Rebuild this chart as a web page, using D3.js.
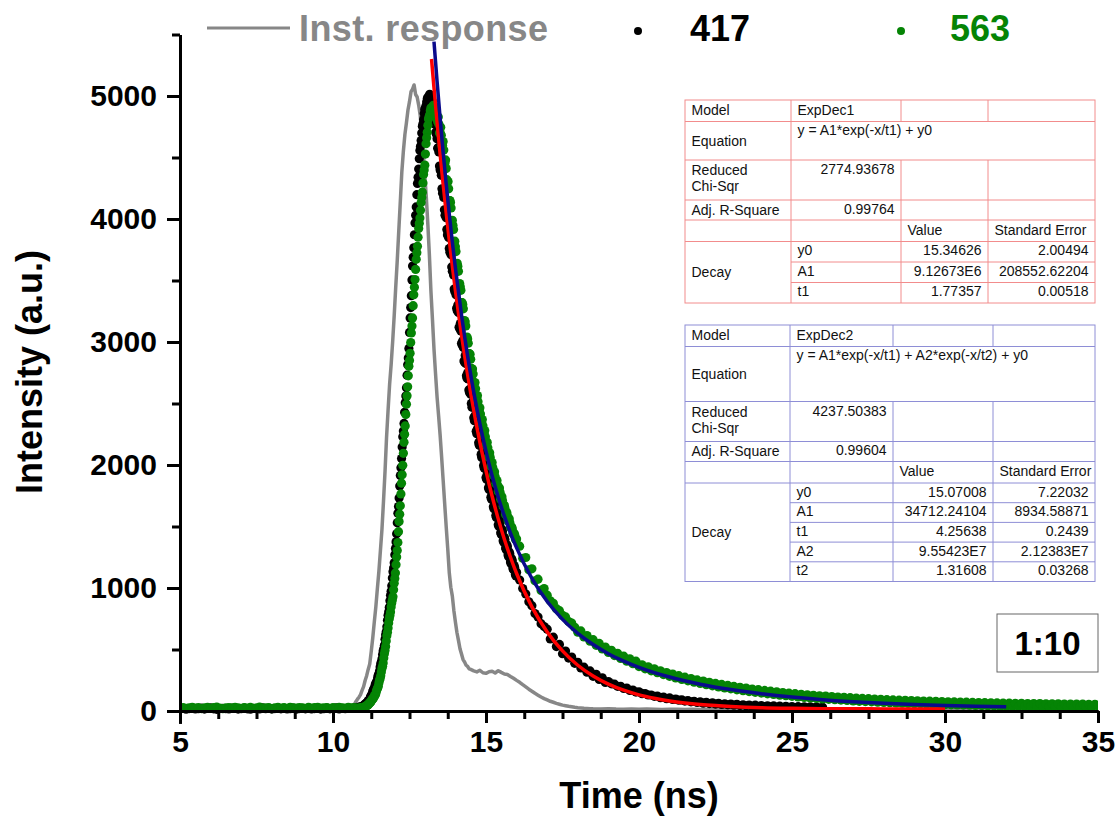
<!DOCTYPE html>
<html>
<head>
<meta charset="utf-8">
<script src="https://cdn.jsdelivr.net/npm/d3@7"></script>
<style>
body { margin: 0; background: #fff; }
svg { display: block; font-family: "Liberation Sans", Arial, Helvetica, sans-serif; }
</style>
</head>
<body>
<svg id="chart" width="1115" height="820"></svg>
<script>
"use strict";

// ---- data (time in ns, intensity in counts) ----
// 417 nm decay: base every 0.1 ns from 5, peak every 0.04 ns from 11.04 (and from 11.06), tail every 0.1 ns from 16.1
let black417Base = [18,22,15,20,24,17,19,23,16,21, 25,18,14,20,22,19,17,24,21,16,
	19,23,18,15,22,20,17,25,19,21, 16,20,24,18,22,17,19,23,15,20,
	21,18,24,17,20,22,16,19,23,18, 20,25,17,21,19,24,22,26,30,36, 44];
let black417Peak = [52,63,68,85,95,121,140,172,193,226,
	245,291,326,384,422,489,535,620,684,779,
	843,941,1018,1132,1206,1322,1441,1608,1731,1915,
	2052,2230,2338,2506,2628,2815,2948,3196,3377,3618,
	3766,3968,4098,4289,4406,4556,4638,4755,4808,4893,
	4921,4978,4982,5014,4976,4958,4878,4822,4705,4652,
	4580,4430,4390,4245,4215,4075,4060,3915,3890,3760,
	3765,3610,3590,3430,3425,3275,3300,3120,3150,2990,
	3010,2845,2890,2725,2750,2610,2615,2500,2510,2385,
	2400,2275,2295,2180,2195,2085,2100,1995,2012,1898,
	1935,1815,1848,1738,1762,1660,1684,1590,1615,1515,
	1550,1450,1478,1385,1412,1326,1352,1268,1292,1212,
	1238,1158,1182,1110,1128];
let black417PeakB = [58,62,80,88,112,128,160,178,214,232,
	272,303,358,398,460,506,584,645,738,806,
	896,974,1081,1162,1270,1375,1530,1662,1830,1978,
	2146,2276,2428,2560,2730,2870,3078,3280,3505,3690,
	3872,4030,4198,4340,4490,4592,4700,4775,4858,4902,
	4952,4990,4996,4995,4972,4915,4858,4768,4690,4575,
	4545,4400,4355,4210,4175,4030,4010,3870,3850,3730,
	3710,3575,3545,3410,3385,3255,3240,3110,3090,2975,
	2955,2835,2825,2705,2700,2590,2575,2470,2470,2360,
	2365,2255,2260,2160,2160,2060,2075,1975,1985,1885,
	1900,1800,1818,1722,1740,1645,1665,1574,1592,1502,
	1528,1435,1460,1372,1395,1312,1335,1255,1276,1198,
	1222,1148,1165,1098];
let black417Tail = [1065,995,952,888,856,792,764,710,686,
	665,586,600,524,541,466,487,430,438,388,
	396,350,356,316,326,282,298,256,270,232,
	240,221,218,201,201,183,186,167,170,154,
	156,141,142,130,130,119,122,108,114,100,
	106,94,97,88,90,81,84,75,79,69,
	75,64,71,60,67,56,63,53,59,50,
	57,47,54,44,51,42,48,39,47,37,
	44,36,42,33,41,32,39,30,38,29,
	36,28,35,27,34,26,33,25,32,24, 30];

// 563 nm decay, same sampling; tail runs to 35 ns
let green563Base = [24,28,21,26,30,23,27,20,25,29, 22,27,31,24,19,26,28,23,30,25,
	21,27,24,29,22,26,31,23,25,28, 20,26,29,24,27,22,30,25,23,28,
	26,21,29,24,27,30,23,25,28,22, 27,24,30,26,23,29,25,28,24,27, 30];
let green563Peak = [33,36,47,53,68,76,95,104,125,142,
	176,201,249,286,345,390,466,524,611,674,
	751,804,878,928,1038,1121,1252,1369,1541,1668,
	1852,1997,2184,2318,2494,2636,2802,2908,3074,3196,
	3384,3508,3672,3778,3922,4008,4134,4218,4362,4438,
	4612,4706,4812,4848,4902,4893,4925,4898,4866,4812,
	4830,4700,4745,4595,4630,4465,4480,4320,4305,4150,
	4135,3985,3950,3805,3775,3635,3615,3465,3450,3320,
	3305,3170,3165,3035,3025,2905,2900,2785,2780,2670,
	2670,2535,2565,2435,2465,2340,2370,2250,2280,2165,
	2185,2065,2100,1990,2020,1918,1946,1850,1874,1785,
	1812,1722,1742,1665,1672,1598,1614,1546,1562,1494,
	1496,1444,1446,1398,1398];
let green563PeakB = [38,44,49,62,70,88,97,116,131,162,
	186,228,264,318,364,430,492,570,640,716,
	776,845,902,985,1078,1190,1305,1458,1600,1765,
	1920,2095,2250,2410,2562,2725,2850,2995,3130,3295,
	3445,3590,3725,3852,3965,4072,4175,4292,4398,4528,
	4660,4762,4832,4880,4905,4912,4918,4885,4842,4790,
	4770,4705,4680,4600,4560,4455,4410,4300,4245,4150,
	4090,3990,3915,3820,3735,3640,3575,3475,3420,3320,
	3270,3175,3130,3040,2990,2905,2860,2780,2740,2665,
	2620,2545,2515,2440,2415,2345,2320,2255,2230,2165,
	2140,2075,2060,1998,1980,1922,1905,1850,1835,1785,
	1778,1725,1712,1662,1648,1600,1588,1545,1530,1490,
	1482,1440,1430,1392];
let green563Tail = [1340,1242,1248,1148,1156,1058,1072,980,996,
	942,896,876,832,816,778,765,727,715,680,
	641,651,602,614,567,580,534,549,504,520,
	476,493,451,469,427,446,405,425,384,405,
	361,376,343,359,327,343,311,327,296,313,
	282,300,269,287,257,275,245,264,234,253,
	224,243,214,233,205,224,196,216,188,208,
	180,200,172,193,165,186,158,179,152,173,
	146,167,140,161,134,156,129,150,124,145,
	119,141,114,136,110,132,106,128,102,124,
	98,121,95,117,92,114,89,111,86,108,
	82,105,79,102,77,100,75,97,72,95,
	69,92,67,90,65,88,63,87,62,85,
	59,83,58,81,57,80,55,79,54,77,
	51,75,50,74,49,73,48,72,47,70,
	45,69,44,68,43,67,42,66,41,65,
	40,64,39,63,38,62,37,61,37,60,
	36,60,35,59,35,58,34,58,33,57,
	33,57,32,56,32,56,31,55,31,55, 42];

// instrument response: every 0.25 ns from 5, 0.05 ns from 10.55, 0.1 ns from 14.6, 0.25 ns from 18.5
let irfBase = [10,12,9,11,13,10,12,11,9,12,10,13,11,10,12,9,11,13,10,12,11,12,15];
let irfPeak = [18,24,36,55,78,96,112,133,167,198,
	248,287,338,382,485,596,724,846,995,1136,
	1305,1476,1704,1946,2224,2446,2655,2816,3004,3215,
	3446,3664,3906,4143,4386,4552,4688,4782,4886,4954,
	5035,5056,5090,5012,4992,4926,4842,4696,4544,4356,
	4174,3955,3706,3415,3186,2944,2746,2555,2404,2246,
	2064,1876,1684,1496,1318,1124,1006,934,816,724,
	638,574,506,463,418,398,372,362,342,338];
let irfShoulder = [326,318,331,311,306,319,323,309,328,314,
	301,297,281,266,249,233,214,196,177,161,
	144,129,114,101,90,79,71,62,55,48,
	43,38,34,30,27,25,22,21,19];
let irfTail = [18,17,19,16,15,17,14,16,15,13, 15,14,12,14,13,15,12,13,14,11,
	13,12,14,12,11,13,12,10,12,13, 11,12,10,12,11,13,10,11,12,10,
	12,11,10,12,11,9,11,12,10,11, 10,12,9,11,10,11,9,10,12,10, 11,9,10,11,10,9,10];

// fitted curves
let fit1Time = [13.22,13.3,13.4,13.5,13.6,13.7,13.8,13.9,14.0,
	14.1,14.2,14.3,14.4,14.5,14.6,14.7,14.8,14.9,15.0,
	15.2,15.4,15.6,15.8,16.0,
	16.5,17.0,17.5,18.0,18.5,19.0,19.5,20.0,20.5,21.0,21.5,22.0,22.5,23.0,
	24,25,26,27,28,29,30];
let fit1Vals = [5301,5068,4791,4529,4282,4048,3827,3618,3420,
	3234,3057,2891,2733,2584,2443,2310,2184,2066,1953,
	1746,1562,1397,1250,1118,
	847,643,489,372,285,219,169,131,103,81,65,53,44,37,
	27,22,19,18,17,16,16];
let fit2Time = [13.3,13.4,13.5,13.6,13.7,13.8,13.9,14.0,
	14.2,14.4,14.6,14.8,15.0,15.2,15.4,15.6,15.8,16.0,
	16.5,17.0,17.5,18.0,18.5,19.0,19.5,20.0,
	21,22,23,24,25,26,27,28,29,30,31,32];
let fit2Vals = [5443,5122,4823,4544,4283,4040,3814,3602,
	3219,2885,2592,2336,2111,1913,1738,1584,1447,1326,
	1078,890,745,631,540,466,406,355,
	276,218,174,140,113,92,76,63,53,45,39,34];

// fit tables
let fit1Stats = ["ExpDec1", "y = A1*exp(-x/t1) + y0", "2774.93678", "0.99764"];
let fit1Names = ["y0", "A1", "t1"];
let fit1Values = ["15.34626", "9.12673E6", "1.77357"];
let fit1Errors = ["2.00494", "208552.62204", "0.00518"];
let fit2Stats = ["ExpDec2", "y = A1*exp(-x/t1) + A2*exp(-x/t2) + y0", "4237.50383", "0.99604"];
let fit2Names = ["y0", "A1", "t1", "A2", "t2"];
let fit2Values = ["15.07008", "34712.24104", "4.25638", "9.55423E7", "1.31608"];
let fit2Errors = ["7.22032", "8934.58871", "0.2439", "2.12383E7", "0.03268"];

let xTicks = [5, 10, 15, 20, 25, 30, 35];
let yTicks = [0, 1000, 2000, 3000, 4000, 5000];

function seg(start, step, vals)
{
	return vals.map(function(v, i) { return {t: start + i * step, v: v}; });
}

let black417 = seg(5, 0.1, black417Base).concat(seg(11.04, 0.04, black417Peak), seg(11.06, 0.04, black417PeakB), seg(16.1, 0.1, black417Tail));
let green563 = seg(5, 0.1, green563Base).concat(seg(11.04, 0.04, green563Peak), seg(11.06, 0.04, green563PeakB), seg(16.1, 0.1, green563Tail));
let irf = seg(5, 0.25, irfBase).concat(seg(10.55, 0.05, irfPeak), seg(14.6, 0.1, irfShoulder), seg(18.5, 0.25, irfTail));
let fit1 = fit1Time.map(function(t, i) { return {t: t, v: fit1Vals[i]}; });
let fit2 = fit2Time.map(function(t, i) { return {t: t, v: fit2Vals[i]}; });

// ---- drawing ----
let svg = d3.select("#chart");
svg.append("rect").attr("width", 1115).attr("height", 820).attr("fill", "#fff");

let x = d3.scaleLinear().domain([5, 35]).range([180, 1098]);
let y = d3.scaleLinear().domain([-100, 5500]).range([723.3, 34.5]);

svg.append("clipPath").attr("id", "plot")
	.append("rect").attr("x", 180).attr("y", 20).attr("width", 918).attr("height", 704);

let plot = svg.append("g").attr("clip-path", "url(#plot)");
let line = d3.line().x(function(d) { return x(d.t); }).y(function(d) { return y(d.v); });

plot.append("path").datum(irf)
	.attr("d", line)
	.attr("fill", "none")
	.attr("stroke", "#878787")
	.attr("stroke-width", 3.5)
	.attr("stroke-linejoin", "round");

let dotR = 4.6;
plot.append("g").selectAll("circle")
	.data(black417)
	.enter().append("circle")
	.attr("cx", function(d) { return x(d.t); })
	.attr("cy", function(d) { return y(d.v); })
	.attr("r", dotR)
	.attr("fill", "#000");

plot.append("g").selectAll("circle")
	.data(green563)
	.enter().append("circle")
	.attr("cx", function(d) { return x(d.t); })
	.attr("cy", function(d) { return y(d.v); })
	.attr("r", dotR)
	.attr("fill", "#058405");

let smooth = d3.line().curve(d3.curveMonotoneX).x(function(d) { return x(d.t); }).y(function(d) { return y(d.v); });
plot.append("path").datum(fit1)
	.attr("d", smooth).attr("fill", "none").attr("stroke", "#f00").attr("stroke-width", 3.5);
plot.append("path").datum(fit2)
	.attr("d", smooth).attr("fill", "none").attr("stroke", "#0a0a8c").attr("stroke-width", 3.5);

// axes
function styleAxis(g)
{
	g.attr("font-family", null).attr("font-size", 30).attr("font-weight", "bold");
	g.selectAll("line, path").attr("stroke", "#000").attr("stroke-width", 3);
	g.selectAll("text").attr("fill", "#000");
}

let xMinor = d3.range(5, 35.01, 1.25).filter(function(v) { return v % 5 !== 0; });
let yMinor = d3.range(500, 5600, 1000);

svg.append("g")
	.attr("transform", "translate(0," + y(0) + ")")
	.call(d3.axisBottom(x).tickValues(xMinor).tickSize(8).tickSizeOuter(0).tickFormat(""))
	.call(styleAxis);
svg.append("g")
	.attr("transform", "translate(0," + y(0) + ")")
	.call(d3.axisBottom(x).tickValues(xTicks).tickSize(12).tickSizeOuter(0).tickPadding(8).tickFormat(d3.format("d")))
	.call(styleAxis);
svg.append("g")
	.attr("transform", "translate(180,0)")
	.call(d3.axisLeft(y).tickValues(yMinor).tickSize(8).tickSizeOuter(0).tickFormat(""))
	.call(styleAxis);
svg.append("g")
	.attr("transform", "translate(180,0)")
	.call(d3.axisLeft(y).tickValues(yTicks).tickSize(13).tickSizeOuter(0).tickPadding(10).tickFormat(d3.format("d")))
	.call(styleAxis);

svg.append("text")
	.attr("x", 639).attr("y", 808)
	.attr("text-anchor", "middle")
	.attr("font-size", 36).attr("font-weight", "bold")
	.text("Time (ns)");
svg.append("text")
	.attr("transform", "translate(42,372) rotate(-90)")
	.attr("text-anchor", "middle")
	.attr("font-size", 36).attr("font-weight", "bold")
	.text("Intensity (a.u.)");

// legend
let legend = svg.append("g").attr("font-size", 36).attr("font-weight", "bold");
legend.append("line").attr("x1", 207).attr("x2", 290).attr("y1", 28).attr("y2", 28)
	.attr("stroke", "#878787").attr("stroke-width", 3);
legend.append("text").attr("x", 299).attr("y", 41).attr("fill", "#878787").attr("textLength", 249).text("Inst. response");
legend.append("circle").attr("cx", 638).attr("cy", 31).attr("r", 4).attr("fill", "#000");
legend.append("text").attr("x", 690).attr("y", 41).attr("fill", "#000").text("417");
legend.append("circle").attr("cx", 901).attr("cy", 31).attr("r", 4).attr("fill", "#058405");
legend.append("text").attr("x", 950).attr("y", 41).attr("fill", "#058405").text("563");

// fit result tables
function drawTable(lay, stats, names, values, errors)
{
	let c = lay.cols;
	let r = lay.rows;
	let end = r[5] + names.length * lay.ph;
	let g = svg.append("g").attr("font-size", 14).attr("fill", "#111");
	g.append("rect").attr("x", c[0]).attr("y", r[0]).attr("width", c[4] - c[0]).attr("height", end - r[0])
		.attr("fill", "#fff").attr("stroke", lay.color);
	let segs = [];
	for (let i = 1; i <= 5; i++) segs.push([c[0], r[i], c[4], r[i]]);
	for (let i = 1; i < names.length; i++) segs.push([c[1], r[5] + i * lay.ph, c[4], r[5] + i * lay.ph]);
	segs.push([c[1], r[0], c[1], end]);
	segs.push([c[2], r[0], c[2], r[1]], [c[2], r[2], c[2], end]);
	segs.push([c[3], r[0], c[3], r[1]], [c[3], r[2], c[3], end]);
	g.selectAll("line").data(segs).enter().append("line")
		.attr("x1", function(d) { return d[0]; }).attr("y1", function(d) { return d[1]; })
		.attr("x2", function(d) { return d[2]; }).attr("y2", function(d) { return d[3]; })
		.attr("stroke", lay.color);
	let pad = 6.5;
	function txt(tx, ty, s, anchor)
	{
		g.append("text").attr("x", tx).attr("y", ty).attr("text-anchor", anchor || "start").text(s);
	}
	txt(c[0] + pad, r[0] + 15, "Model");
	txt(c[1] + pad, r[0] + 15, stats[0]);
	txt(c[0] + pad, (r[1] + r[2]) / 2 + 5, "Equation");
	txt(c[1] + pad, r[1] + 13, stats[1]);
	txt(c[0] + pad, r[2] + 15, "Reduced");
	txt(c[0] + pad, r[2] + 31, "Chi-Sqr");
	txt(c[2] - pad, r[2] + 14, stats[2], "end");
	txt(c[0] + pad, r[3] + 14.5, "Adj. R-Square");
	txt(c[2] - pad, r[3] + 13.5, stats[3], "end");
	txt(c[2] + pad, r[4] + 14.5, "Value");
	txt(c[3] + pad, r[4] + 14.5, "Standard Error");
	txt(c[0] + pad, (r[5] + end) / 2 + 5, "Decay");
	names.forEach(function(n, i)
	{
		let ty = r[5] + i * lay.ph + 13.5;
		txt(c[1] + pad, ty, n);
		txt(c[3] - pad, ty, values[i], "end");
		txt(c[4] - pad, ty, errors[i], "end");
	});
}

drawTable({cols: [685, 791, 901, 988, 1095], rows: [100, 121.5, 160, 200, 220, 241.5], ph: 20.5, color: "#f28c8c"},
	fit1Stats, fit1Names, fit1Values, fit1Errors);
drawTable({cols: [685, 790, 893, 993, 1095], rows: [325, 346.5, 401.5, 441.5, 461.5, 483], ph: 19.7, color: "#8e8ed6"},
	fit2Stats, fit2Names, fit2Values, fit2Errors);

// ratio label
svg.append("rect").attr("x", 997).attr("y", 614).attr("width", 101).attr("height", 58)
	.attr("fill", "#fff").attr("stroke", "#666");
svg.append("text").attr("x", 1047.5).attr("y", 655)
	.attr("text-anchor", "middle").attr("font-size", 33).attr("font-weight", "bold")
	.text("1:10");
</script>
</body>
</html>
